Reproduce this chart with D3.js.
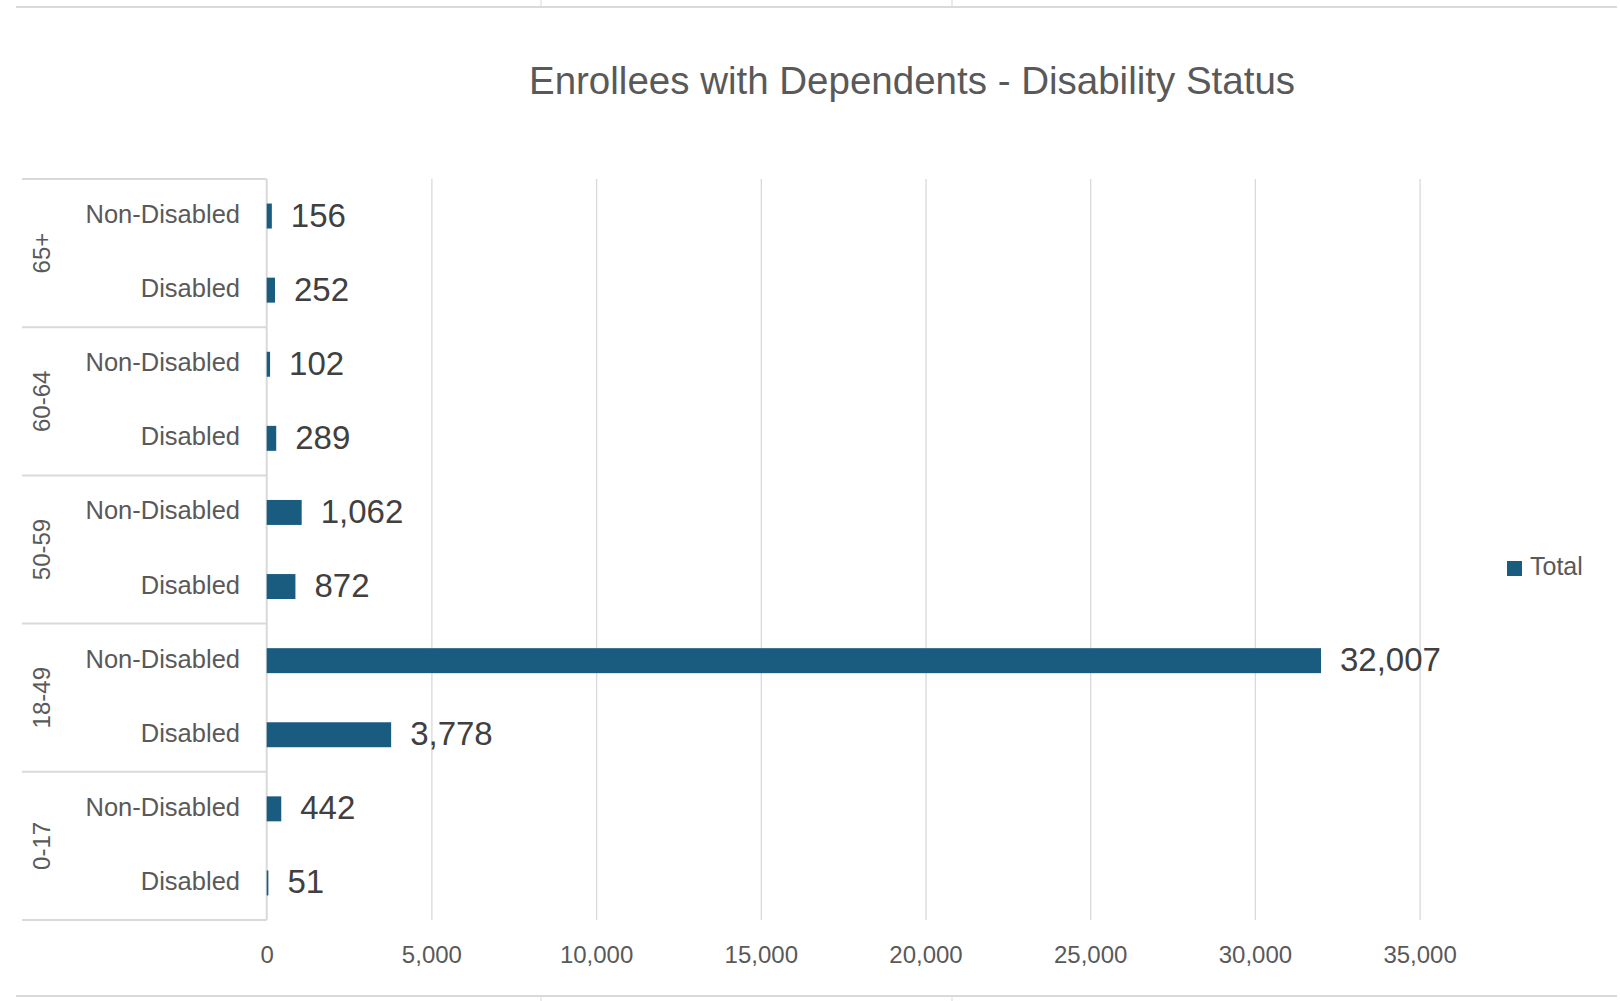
<!DOCTYPE html>
<html>
<head>
<meta charset="utf-8">
<script src="https://cdn.jsdelivr.net/npm/d3@7"></script>
<style>
  html, body { margin: 0; padding: 0; background: #ffffff; }
  svg { display: block; font-family: "Liberation Sans", Arial, sans-serif; }
</style>
</head>
<body>
<svg id="chart" width="1620" height="1001"></svg>
<script>
// ---- data ----
const title = "Enrollees with Dependents - Disability Status";
const groups = ["65+", "60-64", "50-59", "18-49", "0-17"];
const statuses = ["Non-Disabled", "Disabled"];
const nonDisabledValues = [156, 102, 1062, 32007, 442];
const disabledValues = [252, 289, 872, 3778, 51];
const xTickValues = [0, 5000, 10000, 15000, 20000, 25000, 30000, 35000];
const seriesName = "Total";

// ---- build rows ----
const rows = [];
groups.forEach((g, i) => {
  rows.push({ group: g, status: statuses[0], value: nonDisabledValues[i], key: g + "|" + statuses[0] });
  rows.push({ group: g, status: statuses[1], value: disabledValues[i], key: g + "|" + statuses[1] });
});

const svg = d3.select("#chart");
const barColor = "#1a5c80";
const gridColor = "#d9d9d9";
const textColor = "#595959";
const labelColor = "#404040";

const plot = { left: 266.7, right: 1419.6, top: 179, bottom: 920 };

const x = d3.scaleLinear().domain([0, 35000]).range([plot.left, plot.right]);
const y = d3.scaleBand().domain(rows.map(d => d.key)).range([plot.top, plot.bottom])
  .paddingInner(0.663).paddingOuter(0.3315);
const yGroup = d3.scaleBand().domain(groups).range([plot.top, plot.bottom]);

// frame lines (sheet border)
const frame = svg.append("g").attr("stroke", gridColor).attr("fill", "none");
frame.append("line").attr("x1", 16).attr("x2", 1617).attr("y1", 7).attr("y2", 7).attr("stroke-width", 2);
frame.append("line").attr("x1", 16).attr("x2", 1617).attr("y1", 996).attr("y2", 996).attr("stroke-width", 2);
[541, 952].forEach(tx => {
  frame.append("line").attr("x1", tx).attr("x2", tx).attr("y1", 0).attr("y2", 7).attr("stroke-width", 1);
  frame.append("line").attr("x1", tx).attr("x2", tx).attr("y1", 996).attr("y2", 1001).attr("stroke-width", 1);
});

// title
svg.append("text")
  .attr("x", 912).attr("y", 94)
  .attr("text-anchor", "middle")
  .attr("font-size", 38.5)
  .attr("fill", textColor)
  .text(title);

// gridlines
const gridAxis = d3.axisBottom(x).tickValues(xTickValues.filter(v => v > 0))
  .tickSize(-(plot.bottom - plot.top)).tickFormat("");
const grid = svg.append("g").attr("transform", `translate(0,${plot.bottom})`).call(gridAxis);
grid.select(".domain").remove();
grid.selectAll(".tick line").attr("stroke", gridColor).attr("stroke-width", 1.3);

// x tick labels
const xAxis = d3.axisBottom(x).tickValues(xTickValues).tickSize(0).tickPadding(0)
  .tickFormat(d3.format(","));
const xa = svg.append("g").attr("transform", `translate(0,${plot.bottom + 43})`).call(xAxis);
xa.select(".domain").remove();
xa.selectAll(".tick text")
  .attr("font-family", "'Liberation Sans', Arial, sans-serif")
  .attr("font-size", 24).attr("fill", textColor).attr("dy", 0);

// category axis lines
const cat = svg.append("g").attr("stroke", gridColor).attr("stroke-width", 2);
cat.append("line").attr("x1", plot.left).attr("x2", plot.left).attr("y1", plot.top).attr("y2", plot.bottom);
const seps = groups.map(g => yGroup(g)).concat([plot.bottom]);
cat.selectAll("line.sep").data(seps).join("line").attr("class", "sep")
  .attr("x1", 22).attr("x2", plot.left).attr("y1", d => d).attr("y2", d => d);

// bars
svg.append("g").selectAll("rect").data(rows).join("rect")
  .attr("x", x(0))
  .attr("y", d => y(d.key))
  .attr("width", d => x(d.value) - x(0))
  .attr("height", y.bandwidth())
  .attr("fill", barColor);

// data labels
svg.append("g").selectAll("text").data(rows).join("text")
  .attr("x", d => x(d.value) + 19)
  .attr("y", d => y(d.key) + y.bandwidth() / 2 - 1)
  .attr("dominant-baseline", "central")
  .attr("font-size", 33)
  .attr("fill", labelColor)
  .text(d => d3.format(",")(d.value));

// status labels
svg.append("g").selectAll("text").data(rows).join("text")
  .attr("x", 240)
  .attr("y", d => y(d.key) + y.bandwidth() / 2 - 2)
  .attr("text-anchor", "end")
  .attr("dominant-baseline", "central")
  .attr("font-size", 25.5)
  .attr("fill", textColor)
  .text(d => d.status);

// group labels (rotated)
svg.append("g").selectAll("text").data(groups).join("text")
  .attr("transform", g => `translate(41,${yGroup(g) + yGroup.bandwidth() / 2}) rotate(-90)`)
  .attr("text-anchor", "middle")
  .attr("dominant-baseline", "central")
  .attr("font-size", 24)
  .attr("fill", textColor)
  .text(g => g);

// legend
const lg = svg.append("g");
lg.append("rect").attr("x", 1507).attr("y", 561).attr("width", 15).attr("height", 15).attr("fill", barColor);
lg.append("text").attr("x", 1530).attr("y", 566)
  .attr("dominant-baseline", "central")
  .attr("font-size", 25).attr("fill", textColor).text(seriesName);
</script>
</body>
</html>
